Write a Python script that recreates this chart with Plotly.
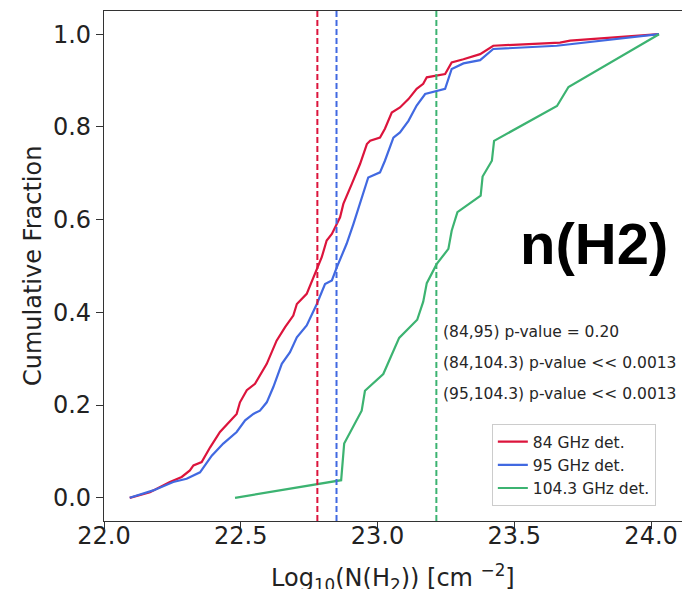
import plotly.graph_objects as go

# Cumulative distributions of log10 N(H2) for the three detection samples
x_84 = [22.094, 22.168, 22.241, 22.284, 22.314, 22.327, 22.357, 22.388, 22.424, 22.461,
        22.485, 22.497, 22.522, 22.552, 22.595, 22.631, 22.662, 22.692, 22.705, 22.741,
        22.771, 22.796, 22.814, 22.833, 22.863, 22.875, 22.906, 22.936, 22.961, 22.973,
        23.009, 23.027, 23.052, 23.082, 23.113, 23.143, 23.167, 23.180, 23.247, 23.271,
        23.314, 23.375, 23.423, 23.667, 23.704, 23.911, 24.029]
y_84 = [0.0, 0.012, 0.034, 0.045, 0.059, 0.070, 0.077, 0.109, 0.142, 0.167,
        0.181, 0.206, 0.232, 0.246, 0.289, 0.339, 0.368, 0.393, 0.418, 0.440,
        0.483, 0.519, 0.555, 0.569, 0.605, 0.634, 0.677, 0.720, 0.763, 0.770,
        0.777, 0.796, 0.831, 0.842, 0.860, 0.882, 0.893, 0.907, 0.914, 0.939,
        0.946, 0.957, 0.975, 0.982, 0.986, 0.995, 1.0]

x_95 = [22.094, 22.180, 22.253, 22.302, 22.351, 22.394, 22.436, 22.485, 22.516, 22.546,
        22.570, 22.595, 22.619, 22.650, 22.680, 22.705, 22.741, 22.778, 22.808, 22.833,
        22.851, 22.887, 22.912, 22.936, 22.966, 23.009, 23.027, 23.058, 23.082, 23.113,
        23.143, 23.174, 23.247, 23.271, 23.314, 23.375, 23.423, 23.655, 23.899, 24.029]
y_95 = [0.0, 0.016, 0.034, 0.041, 0.055, 0.091, 0.117, 0.142, 0.167, 0.181,
        0.188, 0.206, 0.239, 0.289, 0.314, 0.346, 0.372, 0.418, 0.461, 0.469,
        0.497, 0.548, 0.591, 0.634, 0.691, 0.702, 0.727, 0.777, 0.788, 0.813,
        0.846, 0.871, 0.882, 0.925, 0.937, 0.944, 0.968, 0.975, 0.992, 1.0]

x_104 = [22.479, 22.867, 22.878, 22.942, 22.954, 23.021, 23.079, 23.145, 23.167, 23.180,
         23.216, 23.259, 23.271, 23.292, 23.377, 23.384, 23.418, 23.426, 23.656, 23.698,
         24.029]
y_104 = [0.0, 0.038, 0.117, 0.188, 0.231, 0.267, 0.345, 0.384, 0.423, 0.463,
         0.504, 0.537, 0.576, 0.616, 0.652, 0.693, 0.727, 0.770, 0.845, 0.886,
         1.0]

# Sample medians (dashed markers)
medians = [22.78, 22.85, 23.215]

labels = ["84 GHz det.", "95 GHz det.", "104.3 GHz det."]
colors = ["#DC143C", "#4169E1", "#3CB371"]

pvalue_text = ["(84,95) p-value = 0.20",
               "(84,104.3) p-value << 0.0013",
               "(95,104.3) p-value << 0.0013"]
pvalue_y = [0.357, 0.290, 0.223]
pvalue_x = 23.233

x_ticks = [22.0, 22.5, 23.0, 23.5, 24.0]
y_ticks = [0.0, 0.2, 0.4, 0.6, 0.8, 1.0]

FONT = "DejaVu Sans"

fig = go.Figure()
for xs, ys, name, col in zip([x_84, x_95, x_104], [y_84, y_95, y_104], labels, colors):
    fig.add_trace(go.Scatter(x=xs, y=ys, mode="lines", name=name,
                             line=dict(color=col, width=2.2)))

for m, col in zip(medians, colors):
    fig.add_shape(type="line", xref="x", yref="paper", x0=m, x1=m, y0=0, y1=1,
                  line=dict(color=col, width=2, dash="6px,3px"))

for txt, yy in zip(pvalue_text, pvalue_y):
    fig.add_annotation(x=pvalue_x, y=yy, xref="x", yref="y", text=txt, showarrow=False,
                       xanchor="left", yanchor="middle",
                       font=dict(family=FONT, size=15.5, color="#262626"))

fig.add_annotation(x=0.847, y=0.545, xref="paper", yref="paper", text="<b>n(H2)</b>",
                   showarrow=False, xanchor="center", yanchor="middle",
                   font=dict(family="Liberation Sans", size=58, color="black"))

# axis titles
fig.add_annotation(x=0.5, y=0, xref="paper", yref="paper",
                   text="Log<sub>10</sub>(N(H<sub>2</sub>)) [cm <sup>\u22122</sup>]",
                   showarrow=False, xanchor="center", yanchor="top", yshift=-37,
                   font=dict(family=FONT, size=24, color="#222"))
fig.add_annotation(x=0, y=0.5, xref="paper", yref="paper", text="Cumulative Fraction",
                   showarrow=False, xanchor="center", yanchor="middle", xshift=-71,
                   textangle=-90, font=dict(family=FONT, size=24, color="#222"))

axis_common = dict(showgrid=False, zeroline=False, showline=True, linecolor="#333",
                   linewidth=1.3, ticks="outside", ticklen=7, tickwidth=1.3,
                   tickcolor="#333", tickfont=dict(family=FONT, size=24, color="#222"),
                   tickformat=".1f")

fig.update_layout(
    width=682, height=589,
    margin=dict(l=104, r=0, t=11, b=68),
    paper_bgcolor="white", plot_bgcolor="white",
    showlegend=True,
    legend=dict(x=0.671, y=0.19, xanchor="left", yanchor="top",
                bgcolor="white", bordercolor="#cccccc", borderwidth=1,
                font=dict(family=FONT, size=15.5, color="#262626")),
    xaxis=dict(range=[22.0, 24.113], tickvals=x_ticks, mirror=True,
               ticklabelstandoff=-14, **axis_common),
    yaxis=dict(range=[-0.05, 1.05], tickvals=y_ticks, mirror=False, **axis_common),
)

fig.write_html("out.html")
